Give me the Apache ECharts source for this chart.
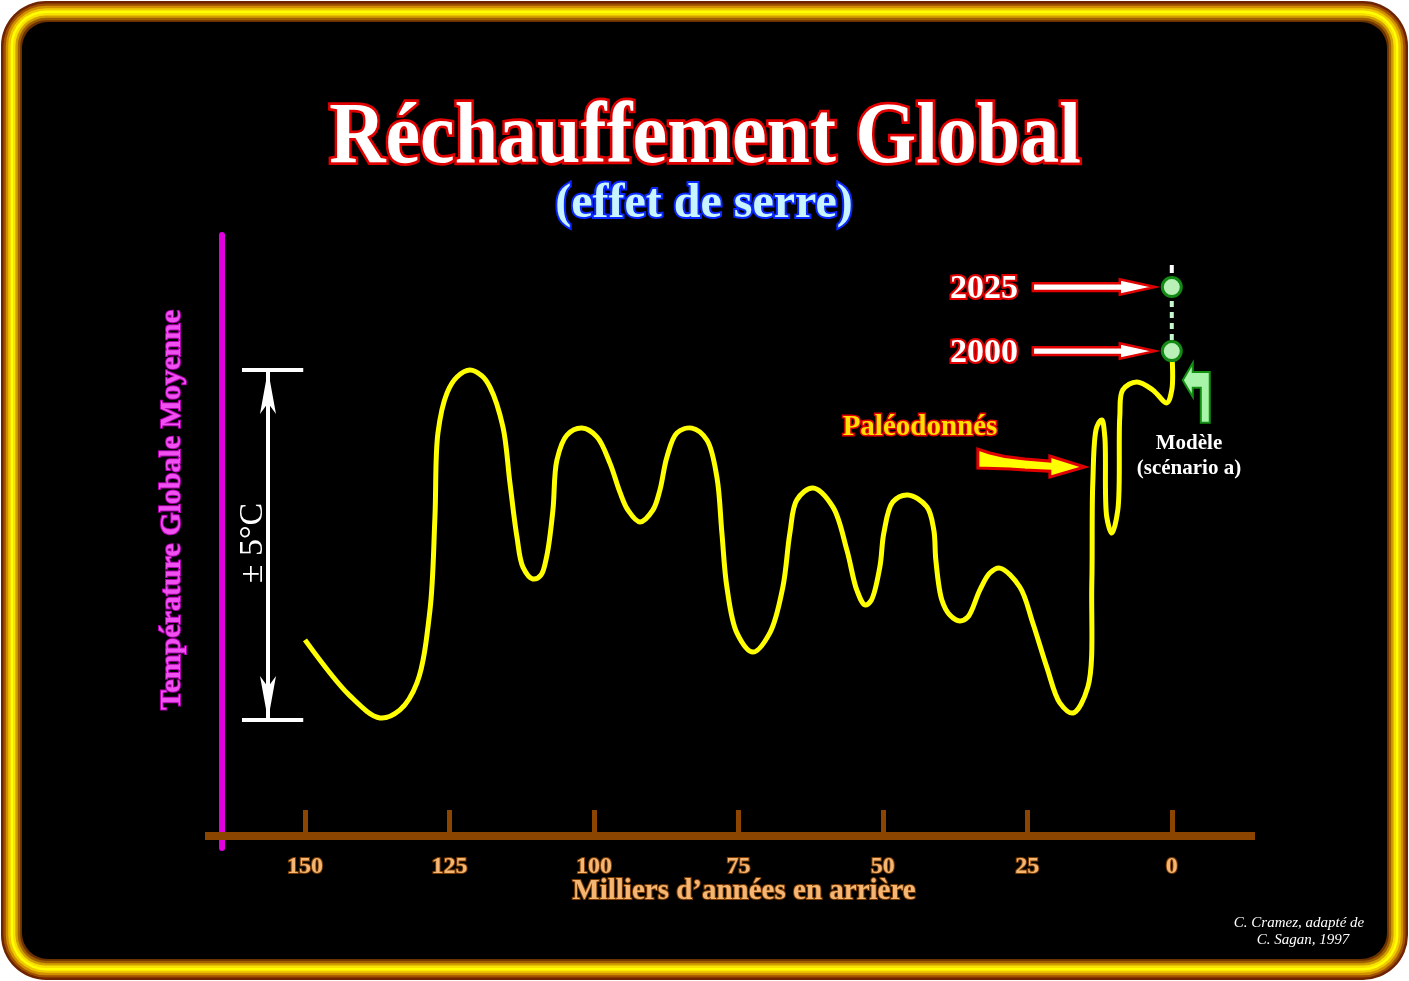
<!DOCTYPE html>
<html><head><meta charset="utf-8">
<script src="https://cdn.jsdelivr.net/npm/echarts@6/dist/echarts.min.js"></script>
<style>html,body{margin:0;padding:0;background:#fff}#c{width:1409px;height:981px}</style>
</head><body><div id="c"></div>
<script>
// Thousands of years ago (x) and temperature anomaly in °C (y)
const years = [150.0,142.21,137.02,133.56,130.62,128.37,127.51,126.99,125.43,123.70,121.45,119.38,117.99,115.74,114.53,113.32,112.28,110.55,109.17,108.13,107.09,106.40,104.67,102.08,99.48,97.23,95.50,94.12,92.04,89.79,88.58,87.37,85.64,83.04,80.45,78.72,77.85,76.99,75.26,72.49,69.55,67.30,66.09,64.88,62.11,58.65,56.23,54.50,53.11,52.08,50.52,49.83,48.27,45.67,42.39,41.18,40.83,39.79,38.41,36.68,35.29,33.22,31.49,29.76,26.30,24.05,21.63,19.38,17.13,14.53,13.84,13.67,12.98,12.11,11.59,11.25,10.38,9.34,9.00,8.48,6.06,3.29,0.87,0.0,0.0];
const temps = [-2.71,-4.31,-4.94,-4.71,-3.94,-1.86,0.80,3.20,4.34,4.80,5.00,4.83,4.51,3.37,1.77,0.23,-0.63,-0.97,-0.86,-0.29,1.00,2.43,3.14,3.34,3.09,2.34,1.51,1.00,0.66,1.00,1.57,2.51,3.20,3.34,3.00,1.94,0.34,-1.20,-2.51,-3.06,-2.51,-1.20,0.34,1.29,1.63,1.09,-0.14,-1.29,-1.71,-1.60,-0.63,0.34,1.23,1.43,1.09,0.43,-0.43,-1.57,-2.00,-2.17,-2.06,-1.29,-0.80,-0.66,-1.20,-2.23,-3.49,-4.51,-4.80,-4.06,-1.09,1.77,3.37,3.57,3.09,0.80,0.34,1.00,3.66,4.43,4.66,4.43,4.06,4.43,5.54];
const tickValues = [0, 25, 50, 75, 100, 125, 150];
const modelYears = [0, 0];
const modelTemps = [5.54, 7.37];      // 2000, 2025
const modelLabels = ['2000', '2025'];
const bracketTemp = 5;                 // ± 5 °C

const chart = echarts.init(document.getElementById('c'), null, {renderer: 'canvas'});
const serif = '"Liberation Serif","Times New Roman",serif';

// frame layers (outer -> inner)
const frameColors = ['#6e2400','#a05000','#d09000','#f0c800','#ffff00','#f8e000','#d0a000','#a06000','#6a3000'];
const frame = frameColors.map((c, i) => {
  const d = 1 + i * 2.4;
  return {type: 'rect', z: -10, silent: true,
    shape: {x: d, y: d, width: 1409 - 2 * d, height: 981 - 2 * d, r: Math.max(46 - d, 4)},
    style: {fill: c}};
});
frame.push({type: 'rect', z: -10, silent: true,
  shape: {x: 22, y: 22, width: 1365, height: 937, r: 26}, style: {fill: '#000'}});

function txt(text, x, y, o) {
  return Object.assign({type: 'text', z: 100, x: x, y: y, silent: true,
    style: Object.assign({text: text, align: 'center', verticalAlign: 'middle',
      fontFamily: serif, fontWeight: 'bold'}, o.style || {})}, o.el || {});
}

const pts = years.map((y, i) => [y, temps[i]]);
const solid = (color, width) => ({color: color, width: width, type: 'solid'});

// centripetal Catmull-Rom through pixel points -> SVG path
function splinePath(P) {
  let d = 'M' + P[0][0] + ' ' + P[0][1];
  const dist = (a, b) => Math.pow(Math.hypot(b[0] - a[0], b[1] - a[1]), 0.5);
  for (let i = 0; i < P.length - 1; i++) {
    const p0 = P[i - 1] || P[i], p1 = P[i], p2 = P[i + 1], p3 = P[i + 2] || P[i + 1];
    const d1 = dist(p0, p1), d2 = dist(p1, p2), d3 = dist(p2, p3);
    let b1, b2;
    if (d1 < 1e-6) b1 = p1; else {
      b1 = [0, 1].map(k => (d1 * d1 * p2[k] - d2 * d2 * p0[k] + (2 * d1 * d1 + 3 * d1 * d2 + d2 * d2) * p1[k]) / (3 * d1 * (d1 + d2)));
    }
    if (d3 < 1e-6) b2 = p2; else {
      b2 = [0, 1].map(k => (d3 * d3 * p1[k] - d2 * d2 * p3[k] + (2 * d3 * d3 + 3 * d3 * d2 + d2 * d2) * p2[k]) / (3 * d3 * (d3 + d2)));
    }
    d += ' C' + b1[0] + ' ' + b1[1] + ' ' + b2[0] + ' ' + b2[1] + ' ' + p2[0] + ' ' + p2[1];
  }
  return d;
}

// annotation shapes in data coordinates
function hollowArrow(T) {
  return [[24.05, T + 0.11], [9.0, T + 0.11], [9.0, T + 0.22], [2.9, T], [9.0, T - 0.22], [9.0, T - 0.11], [24.05, T - 0.11]];
}
const shapes = [
  {pts: hollowArrow(modelTemps[1]), fill: '#fff', stroke: '#e00000', lw: 2.5},
  {pts: hollowArrow(modelTemps[0]), fill: '#fff', stroke: '#e00000', lw: 2.5},
  {pts: [[33.56, 2.74], [31.5, 2.63], [28.9, 2.53], [25.4, 2.46], [21.1, 2.4], [21.1, 2.54], [15.05, 2.23], [21.1, 1.94], [21.1, 2.11], [25.4, 2.14], [28.0, 2.17], [33.56, 2.2]],
    fill: '#ffff00', stroke: '#e00000', lw: 3},
  {pts: [[-1.90, 4.71], [-3.63, 5.2], [-3.63, 4.94], [-6.57, 4.94], [-6.57, 3.49], [-5.02, 3.49], [-5.02, 4.49], [-3.63, 4.49], [-3.63, 4.23]],
    fill: '#a8f4a8', stroke: '#139013', lw: 2}
];

chart.setOption({
  backgroundColor: '#fff',
  animation: false,
  graphic: frame.concat([
    txt('Réchauffement Global', 705, 140, {style: {fontSize: 78, fill: '#fff', stroke: '#e00000', lineWidth: 5}, el: {scaleY: 1.1}}),
    txt('(effet de serre)', 704, 205, {style: {fontSize: 48, fill: '#c8f4ff', stroke: '#0a28ff', lineWidth: 4}}),
    txt('Température Globale Moyenne', 172, 510, {style: {fontSize: 30, fill: '#f050f0', stroke: '#b000b0', lineWidth: 2}, el: {rotation: Math.PI / 2}}),
    txt('± 5°C', 253, 543, {style: {fontSize: 34, fontWeight: 'normal', fill: '#fff'}, el: {rotation: Math.PI / 2}}),
    txt(modelLabels[1], 984, 289, {style: {fontSize: 34, fill: '#fff', stroke: '#e00000', lineWidth: 4}}),
    txt(modelLabels[0], 984, 353, {style: {fontSize: 34, fill: '#fff', stroke: '#e00000', lineWidth: 4}}),
    txt('Paléodonnés', 920, 428, {style: {fontSize: 29, fill: '#ffe000', stroke: '#e00000', lineWidth: 3}}),
    txt('Modèle', 1189, 444, {style: {fontSize: 21, fill: '#fff'}}),
    txt('(scénario a)', 1189, 469, {style: {fontSize: 21, fill: '#fff'}}),
    txt('Milliers d’années en arrière', 744, 892, {style: {fontSize: 29, fill: '#f5b673', stroke: '#7a3c00', lineWidth: 2}}),
    txt('C. Cramez, adapté de', 1299, 923, {style: {fontSize: 15, fontWeight: 'normal', fontStyle: 'italic', fill: '#fff'}}),
    txt('C. Sagan, 1997', 1303, 940, {style: {fontSize: 15, fontWeight: 'normal', fontStyle: 'italic', fill: '#fff'}})
  ]),
  grid: [
    {left: 205, right: 154, top: 235, bottom: 145},
    {left: 222, right: 100, top: 235, bottom: 133}
  ],
  xAxis: [
    {type: 'value', gridIndex: 0, inverse: true, min: -14.4, max: 167.3,
      splitLine: {show: false},
      axisLine: {show: true, onZero: false, lineStyle: {color: '#8b4500', width: 8, cap: 'butt'}},
      axisTick: {show: true, inside: true, length: 26, customValues: tickValues, lineStyle: {color: '#8b4500', width: 5}},
      axisLabel: {show: true, customValues: tickValues, margin: 19, fontFamily: serif, fontWeight: 'bold', fontSize: 24,
        color: '#f5b673', textBorderColor: '#7a3c00', textBorderWidth: 2}},
    {type: 'value', gridIndex: 1, show: false, min: 0, max: 1}
  ],
  yAxis: [
    {type: 'value', gridIndex: 0, min: -8.314, max: 8.857, show: false, splitLine: {show: false}},
    {type: 'value', gridIndex: 1, min: 0, max: 1, show: true, splitLine: {show: false},
      axisLine: {show: true, lineStyle: {color: '#e000e0', width: 6}},
      axisTick: {show: false}, axisLabel: {show: false}}
  ],
  series: [
    // paleo-temperature curve (smooth spline through data points, via the axes' scales)
    {type: 'custom', name: 'Paléodonnées', data: pts, z: 5, clip: false,
      encode: {x: 0, y: 1},
      renderItem: function (params, api) {
        if (params.dataIndex !== 0) return null;
        const P = pts.map(p => api.coord(p));
        return {type: 'path', shape: {pathData: splinePath(P)},
          style: {fill: 'none', stroke: '#ffff00', lineWidth: 5, lineJoin: 'round', lineCap: 'butt'}};
      }},
    // dashed projection above 2025
    {type: 'line', data: [[0, modelTemps[1]], [0, 8.14]], showSymbol: false, z: 4,
      lineStyle: {color: '#fff', width: 4, type: [8, 6]}},
    // model between 2000 and 2025
    {type: 'line', data: [[0, modelTemps[0]], [0, modelTemps[1]]], showSymbol: false, z: 4,
      lineStyle: {color: '#c8f8d0', width: 4, type: [6, 5]}},
    {type: 'scatter', data: modelYears.map((y, i) => [y, modelTemps[i]]), symbolSize: 19, z: 10,
      itemStyle: {color: '#b8f0b8', borderColor: '#138a13', borderWidth: 3, opacity: 1}},
    // annotation shapes
    {type: 'custom', data: shapes.map(s => s.pts[0]), z: 6, clip: false, silent: true,
      encode: {x: 0, y: 1},
      renderItem: function (params, api) {
        const s = shapes[params.dataIndex];
        return {type: 'polygon', shape: {points: s.pts.map(p => api.coord(p))},
          style: {fill: s.fill, stroke: s.stroke, lineWidth: s.lw, lineJoin: 'miter'}};
      }},
    // ±5°C bracket
    {type: 'line', data: [], z: 3,
      markLine: {silent: true, animation: false, label: {show: false},
        data: [
          [{coord: [156.4, bracketTemp], symbol: 'arrow', symbolSize: [12, 44]}, {coord: [156.4, -bracketTemp], symbol: 'arrow', symbolSize: [12, 44], lineStyle: solid('#fff', 4)}],
          [{coord: [160.9, bracketTemp], symbol: 'none'}, {coord: [150.3, bracketTemp], symbol: 'none', lineStyle: solid('#fff', 4)}],
          [{coord: [160.9, -bracketTemp], symbol: 'none'}, {coord: [150.3, -bracketTemp], symbol: 'none', lineStyle: solid('#fff', 4)}]
        ]}}
  ]
});
</script></body></html>
